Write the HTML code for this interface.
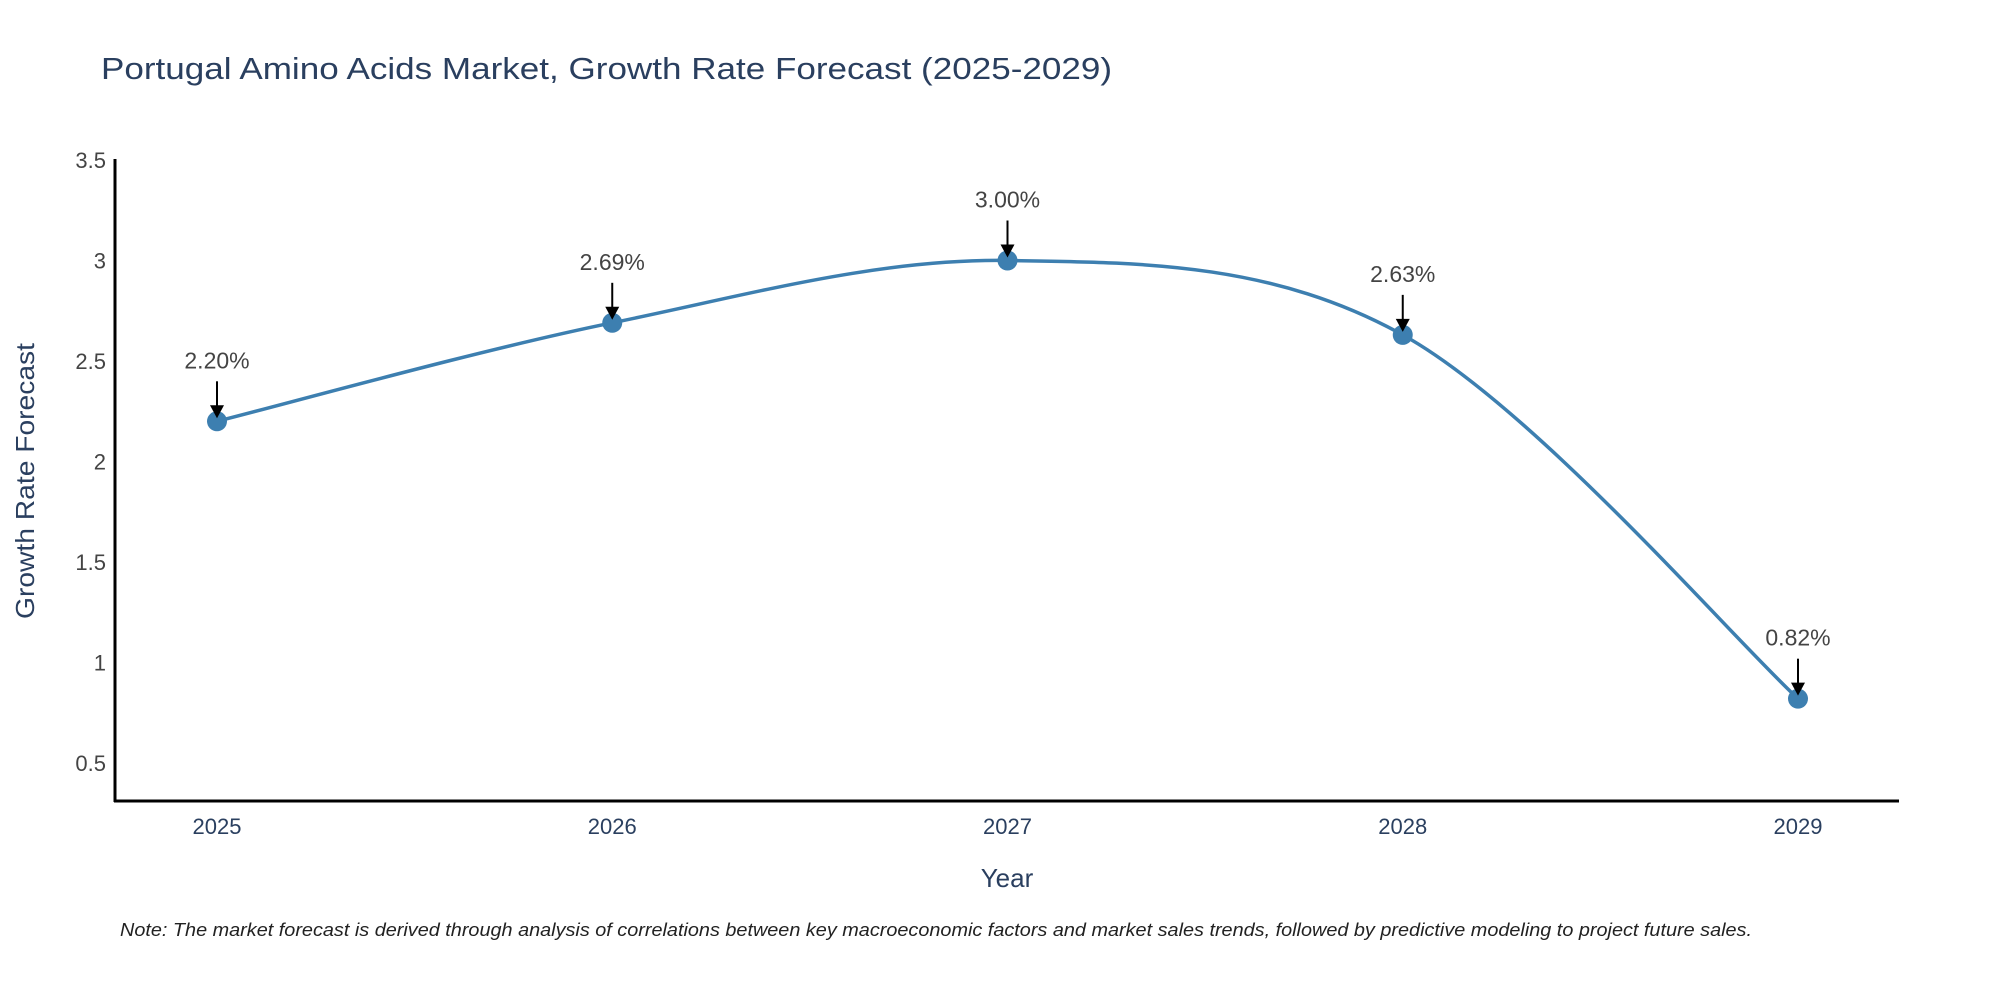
<!DOCTYPE html>
<html><head><meta charset="utf-8"><style>
html,body{margin:0;padding:0;background:#fff;}
svg text{font-family:"Liberation Sans",sans-serif;}
</style></head><body>
<svg width="2000" height="1000" xmlns="http://www.w3.org/2000/svg">
<text x="101" y="79" font-size="31" fill="#2a3f5f" textLength="1011" lengthAdjust="spacingAndGlyphs">Portugal Amino Acids Market, Growth Rate Forecast (2025-2029)</text>
<g id="yticks"></g>
<g id="xticks"></g>
<line x1="115" y1="159" x2="115" y2="802" stroke="#000" stroke-width="3"/>
<line x1="114" y1="801" x2="1899" y2="801" stroke="#000" stroke-width="3"/>
<path id="curve" fill="none" stroke="#3d7fb0" stroke-width="3.5"/>
<g id="points"></g>
<text x="1007" y="887" font-size="26" fill="#2a3f5f" text-anchor="middle">Year</text>
<text transform="translate(34,481) rotate(-90)" font-size="26" fill="#2a3f5f" text-anchor="middle" textLength="276" lengthAdjust="spacingAndGlyphs">Growth Rate Forecast</text>
<text x="120" y="936" font-size="18" font-style="italic" fill="#222" textLength="1632" lengthAdjust="spacingAndGlyphs">Note: The market forecast is derived through analysis of correlations between key macroeconomic factors and market sales trends, followed by predictive modeling to project future sales.</text>
</svg>
<script>
const categories = ["2025","2026","2027","2028","2029"];
const values = [2.20, 2.69, 3.00, 2.63, 0.82];
const yTickValues = [0.5, 1, 1.5, 2, 2.5, 3, 3.5];
const yTickLabels = ["0.5","1","1.5","2","2.5","3","3.5"];
const NS = "http://www.w3.org/2000/svg";
function xPos(i){ return 217 + i * (1798 - 217) / (categories.length - 1); }
function yPos(v){ return 763 - (v - 0.5) * (763 - 160) / 3; }
function mk(tag, attrs, parent){ const e = document.createElementNS(NS, tag); for (const k in attrs) e.setAttribute(k, attrs[k]); parent.appendChild(e); return e; }
const yt = document.getElementById('yticks');
yTickValues.forEach((v, i) => {
  const t = mk('text', {x: 106, y: yPos(v) + 8, 'font-size': 22, fill: '#444', 'text-anchor': 'end'}, yt);
  
  
  t.textContent = yTickLabels[i];
});
const xt = document.getElementById('xticks');
categories.forEach((c, i) => {
  const t = mk('text', {x: xPos(i), y: 834, 'font-size': 22, fill: '#2a3f5f', 'text-anchor': 'middle'}, xt);
  
  
  t.textContent = c;
});
const pts = values.map((v, i) => [xPos(i), yPos(v)]);
let d = 'M' + pts[0][0] + ',' + pts[0][1];
for (let i = 0; i < pts.length - 1; i++) {
  const p0 = pts[Math.max(0, i - 1)], p1 = pts[i], p2 = pts[i + 1], p3 = pts[Math.min(pts.length - 1, i + 2)];
  const k = 6;
  const c1 = [p1[0] + (p2[0] - p0[0]) / k, p1[1] + (p2[1] - p0[1]) / k];
  const c2 = [p2[0] - (p3[0] - p1[0]) / k, p2[1] - (p3[1] - p1[1]) / k];
  d += ' C' + c1.join(',') + ' ' + c2.join(',') + ' ' + p2.join(',');
}
document.getElementById('curve').setAttribute('d', d);
const pg = document.getElementById('points');
values.forEach((v, i) => {
  const x = xPos(i), y = yPos(v);
  const c = mk('circle', {cx: x, cy: y, r: 10, fill: '#3d7fb0'}, pg);
  
  
  const l = mk('line', {x1: x, y1: y - 40, x2: x, y2: y - 14, stroke: '#000', 'stroke-width': 2}, pg);
  
  
  const a = mk('polygon', {points: (x - 7) + ',' + (y - 16) + ' ' + (x + 7) + ',' + (y - 16) + ' ' + x + ',' + (y - 3)}, pg);
  
  
  const t = mk('text', {x: x, y: y - 53, 'font-size': 23, fill: '#444', 'text-anchor': 'middle'}, pg);
  
  
  t.textContent = v.toFixed(2) + '%';
});
</script>
</body></html>
